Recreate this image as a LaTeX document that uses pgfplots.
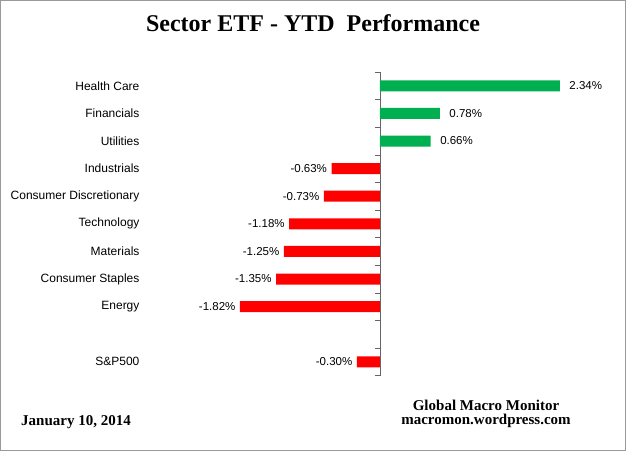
\documentclass[border=0pt]{standalone}
\usepackage{fontspec}
\setmainfont{Liberation Serif}
\newfontfamily\lblfont{Liberation Sans}
\usepackage{pgfplots}
\pgfplotsset{compat=1.18}
\definecolor{xlgreen}{HTML}{00B050}
\definecolor{xlred}{HTML}{FF0000}
\begin{document}
\begin{tikzpicture}[x=1pt,y=1pt]
\draw[gray!80,line width=1.2pt] (0.6,0.6) rectangle (625.4,450.4);
\useasboundingbox (0,0) rectangle (626,451);
\node[font=\fontsize{24}{26}\selectfont\bfseries] at (313,428) {Sector ETF - YTD\ \ Performance};
\node[font=\fontsize{15}{17}\selectfont\bfseries] at (76,29) {January 10, 2014};
\node[font=\fontsize{15}{17}\selectfont\bfseries,align=center] at (486,37) {Global Macro Monitor\\[-3pt]macromon.wordpress.com};
\begin{axis}[
  at={(149.2pt,379pt)}, anchor=north west,
  x=76.92pt, y=27.6pt, y dir=reverse,
  xmin=-3, xmax=3, ymin=0.5, ymax=11.5,
  axis x line=none, axis y line=center,
  axis line style={gray!80!black,line width=0.6pt,-},
  ytick={1,2,3,4,5,6,7,8,9,10,11},
  yticklabels={Health Care,Financials,Utilities,Industrials,Consumer Discretionary,Technology,Materials,Consumer Staples,Energy,,S\&P500},
  minor ytick={0.5,1.5,...,11.5},
  major tick length=0pt, minor tick length=5pt, tick align=outside,
  tick style={gray!80!black,line width=0.6pt},
  yticklabel style={font=\lblfont\fontsize{12}{13}\selectfont, anchor=east, xshift=-237pt},
  xbar, bar width=11pt, bar shift=0pt,
  point meta=explicit symbolic,
  nodes near coords,
  nodes near coords style={font=\lblfont\fontsize{11.5}{12}\selectfont},
]
\addplot[fill=xlgreen,draw=none,
  every node near coord/.append style={anchor=west,xshift=6pt}]
  coordinates {(2.34,1) [2.34\%] (0.78,2) [0.78\%] (0.66,3) [0.66\%]};
\addplot[fill=xlred,draw=none,
  every node near coord/.append style={anchor=east,xshift=-1pt}]
  coordinates {(-0.63,4) [-0.63\%] (-0.73,5) [-0.73\%] (-1.18,6) [-1.18\%]
    (-1.25,7) [-1.25\%] (-1.35,8) [-1.35\%] (-1.82,9) [-1.82\%] (-0.30,11) [-0.30\%]};
\end{axis}
\end{tikzpicture}
\end{document}
